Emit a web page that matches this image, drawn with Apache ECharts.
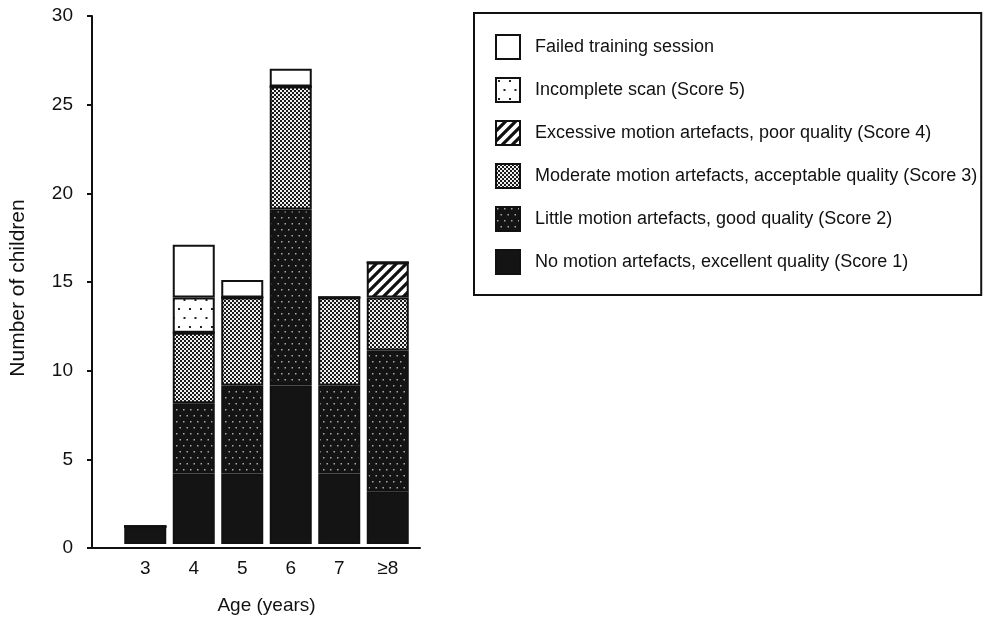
<!DOCTYPE html>
<html><head><meta charset="utf-8">
<script src="https://cdn.jsdelivr.net/npm/echarts@6/dist/echarts.min.js"></script>
<style>html,body{margin:0;padding:0;background:#fff}#c{width:983px;height:620px}</style>
</head><body><div id="c"></div>
<script>
const categories = ['3', '4', '5', '6', '7', '≥8'];
const score1 = [1, 4, 4, 9, 4, 3];
const score2 = [0, 4, 5, 10, 5, 8];
const score3 = [0, 4, 5, 7, 5, 3];
const score4 = [0, 0, 0, 0, 0, 2];
const score5 = [0, 2, 0, 0, 0, 0];
const failed = [0, 3, 1, 1, 0, 0];
const seriesNames = [
  'No motion artefacts, excellent quality (Score 1)',
  'Little motion artefacts, good quality (Score 2)',
  'Moderate motion artefacts, acceptable quality (Score 3)',
  'Excessive motion artefacts, poor quality (Score 4)',
  'Incomplete scan (Score 5)',
  'Failed training session'
];
const yTicks = [0, 5, 10, 15, 20, 25, 30];

function tile(w, h, draw) {
  const c = document.createElement('canvas'); c.width = w; c.height = h;
  const g = c.getContext('2d'); draw(g, w, h);
  return { image: c, repeat: 'repeat' };
}
const pSolid = '#141414';
const pDots = tile(7, 12, (g) => {
  g.fillStyle = '#141414'; g.fillRect(0, 0, 7, 12);
  g.fillStyle = '#a8a8a8'; g.fillRect(1, 1, 1.5, 1.5); g.fillRect(4.5, 7, 1.5, 1.5);
});
const pChecker = tile(4, 4, (g) => {
  g.fillStyle = '#f0f0f0'; g.fillRect(0, 0, 4, 4);
  g.fillStyle = '#1a1a1a'; g.fillRect(0, 0, 2, 2); g.fillRect(2, 2, 2, 2);
});
const pStripes = tile(10, 10, (g) => {
  g.fillStyle = '#fff'; g.fillRect(0, 0, 10, 10);
  g.strokeStyle = '#111'; g.lineWidth = 3.2;
  g.beginPath();
  g.moveTo(-2, 12); g.lineTo(12, -2);
  g.moveTo(-2, 2); g.lineTo(2, -2);
  g.moveTo(8, 12); g.lineTo(12, 8);
  g.stroke();
});
const pSparse = tile(11, 18, (g) => {
  g.fillStyle = '#fff'; g.fillRect(0, 0, 11, 18);
  g.fillStyle = '#222'; g.fillRect(2, 2, 2, 2); g.fillRect(7.5, 11, 2, 2);
});
const fills = [pSolid, pDots, pChecker, pStripes, pSparse, '#ffffff'];
const values = [score1, score2, score3, score4, score5, failed];

const font = 'Liberation Sans, Arial, sans-serif';
const chart = echarts.init(document.getElementById('c'), null, { renderer: 'canvas' });
chart.setOption({
  animation: false,
  backgroundColor: '#fff',
  textStyle: { fontFamily: font, color: '#111' },
  grid: [
    { left: 121, right: 571, top: 16, bottom: 72 },
    { left: 92, right: 563, top: 16, bottom: 72 }
  ],
  xAxis: [
    { type: 'category', gridIndex: 0, data: categories,
      axisLine: { show: false }, axisTick: { show: false },
      axisLabel: { fontSize: 19, color: '#111', margin: 15, fontFamily: font },
      name: 'Age (years)', nameLocation: 'middle', nameGap: 52,
      nameTextStyle: { fontSize: 19, color: '#111', fontFamily: font } },
    { type: 'value', gridIndex: 1, min: 0, max: 1,
      axisLine: { show: true, lineStyle: { color: '#111', width: 2 } },
      axisTick: { show: false }, axisLabel: { show: false }, splitLine: { show: false } }
  ],
  yAxis: [
    { type: 'value', gridIndex: 0, min: 0, max: 30, interval: 5, show: false },
    { type: 'value', gridIndex: 1, min: 0, max: 30, interval: 5,
      axisLine: { show: true, lineStyle: { color: '#111', width: 2 } },
      axisTick: { show: true, length: 5, lineStyle: { color: '#111', width: 2 } },
      axisLabel: { fontSize: 19, color: '#111', margin: 19, fontFamily: font,
        formatter: (v) => yTicks.includes(v) ? String(v) : '' },
      splitLine: { show: false },
      name: 'Number of children', nameLocation: 'middle', nameRotate: 90, nameGap: 63,
      nameTextStyle: { fontSize: 21, color: '#111', fontFamily: font, padding: [0, 12, 0, 0] } }
  ],
  legend: {
    orient: 'vertical', left: 474, top: 13,
    data: seriesNames.slice().reverse(),
    icon: 'rect',
    itemWidth: 24, itemHeight: 24, itemGap: 17,
    padding: [21, 4, 20, 21],
    borderColor: '#111', borderWidth: 2, borderRadius: 0,
    selectedMode: false,
    textStyle: { fontSize: 18, color: '#111', fontFamily: font, padding: [0, 0, 0, 10] }
  },
  series: seriesNames.map((n, i) => ({
    name: n, type: 'bar', stack: 'total', xAxisIndex: 0, yAxisIndex: 0,
    barWidth: 42, data: values[i],
    itemStyle: { color: fills[i], borderColor: '#111', borderWidth: 2 },
    emphasis: { disabled: true }
  }))
});
</script></body></html>
